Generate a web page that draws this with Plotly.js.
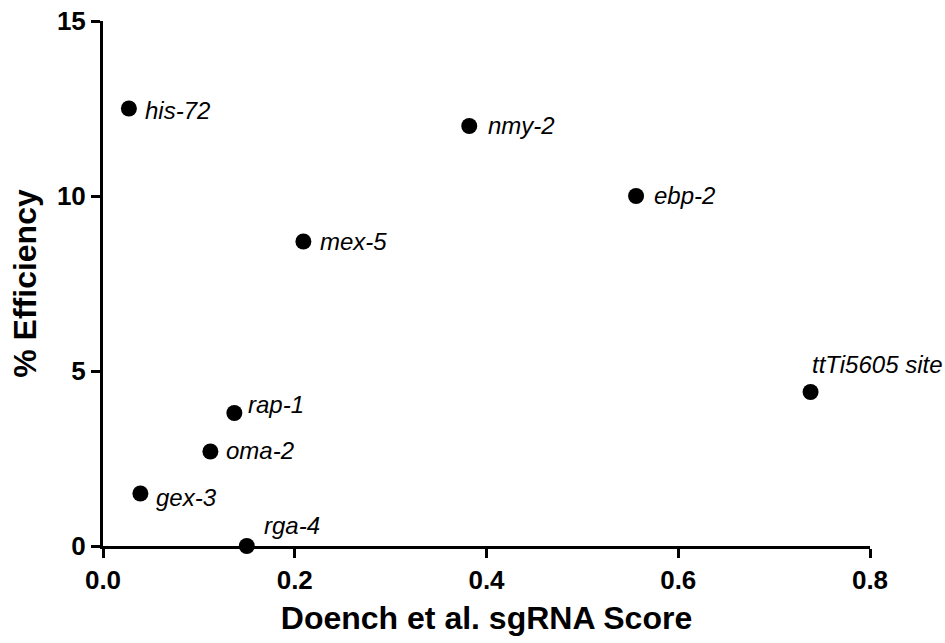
<!DOCTYPE html>
<html>
<head>
<meta charset="utf-8">
<script src="https://cdn.plot.ly/plotly-3.0.1.min.js"></script>
<style>
html, body { margin: 0; padding: 0; background: #ffffff; }
#chart { width: 945px; height: 643px; }
</style>
</head>
<body>
<div id="chart"></div>
<script>
// Data
var genes = ["his-72", "nmy-2", "ebp-2", "mex-5", "ttTi5605 site", "rap-1", "oma-2", "gex-3", "rga-4"];
var sgRNAScore = [0.027, 0.382, 0.556, 0.209, 0.738, 0.137, 0.112, 0.039, 0.150];
var efficiency = [12.5, 12.0, 10.0, 8.7, 4.4, 3.8, 2.7, 1.5, 0.0];
var xTicks = [0, 0.2, 0.4, 0.6, 0.8];
var xTickLabels = ["0.0", "0.2", "0.4", "0.6", "0.8"];
var yTicks = [0, 5, 10, 15];
var yTickLabels = ["0", "5", "10", "15"];

// Label placement (pixel offsets from each point), style only
var labelShift = {
  "his-72": [14, -2],
  "nmy-2": [17, 1],
  "ebp-2": [16, 1],
  "mex-5": [15, 0],
  "ttTi5605 site": [-1, 28],
  "rap-1": [12, 9],
  "oma-2": [14, 1],
  "gex-3": [14, -4],
  "rga-4": [15, 21]
};

var FONT = "Liberation Sans, Arial, Helvetica, sans-serif";

var trace = {
  type: "scatter",
  mode: "markers",
  x: sgRNAScore,
  y: efficiency,
  text: genes,
  marker: { color: "#000000", size: 16, line: { width: 0 } },
  cliponaxis: false,
  hoverinfo: "x+y+text"
};

var annotations = genes.map(function (g, i) {
  var s = labelShift[g];
  return {
    x: sgRNAScore[i],
    y: efficiency[i],
    xref: "x",
    yref: "y",
    text: "<i>" + g + "</i>",
    showarrow: false,
    xanchor: "left",
    yanchor: "middle",
    xshift: s[0],
    yshift: s[1],
    font: { family: FONT, size: 24, color: "#000000" }
  };
});

function bold(arr) { return arr.map(function (t) { return "<b>" + t + "</b>"; }); }

var layout = {
  width: 945,
  height: 643,
  margin: { l: 103, r: 75, t: 21, b: 97, pad: 0 },
  paper_bgcolor: "#ffffff",
  plot_bgcolor: "#ffffff",
  showlegend: false,
  font: { family: FONT, color: "#000000" },
  xaxis: {
    range: [0, 0.8],
    tickvals: xTicks,
    ticktext: bold(xTickLabels),
    showgrid: false,
    zeroline: false,
    showline: true,
    linecolor: "#000000",
    linewidth: 3,
    ticks: "outside",
    ticklen: 9,
    tickwidth: 3,
    tickcolor: "#000000",
    tickfont: { family: FONT, size: 26, color: "#000000" },
    title: { text: "<b>Doench et al. sgRNA Score</b>", font: { family: FONT, size: 32, color: "#000000" }, standoff: 13 },
    fixedrange: true
  },
  yaxis: {
    range: [0, 15],
    tickvals: yTicks,
    ticktext: bold(yTickLabels),
    showgrid: false,
    zeroline: false,
    showline: true,
    linecolor: "#000000",
    linewidth: 3,
    ticks: "outside",
    ticklen: 9,
    tickwidth: 3,
    tickcolor: "#000000",
    tickfont: { family: FONT, size: 26, color: "#000000" },
    title: { text: "<b>% Efficiency</b>", font: { family: FONT, size: 32, color: "#000000" }, standoff: 11 },
    fixedrange: true
  },
  annotations: annotations
};

Plotly.newPlot("chart", [trace], layout, { displayModeBar: false, staticPlot: true });
</script>
</body>
</html>
